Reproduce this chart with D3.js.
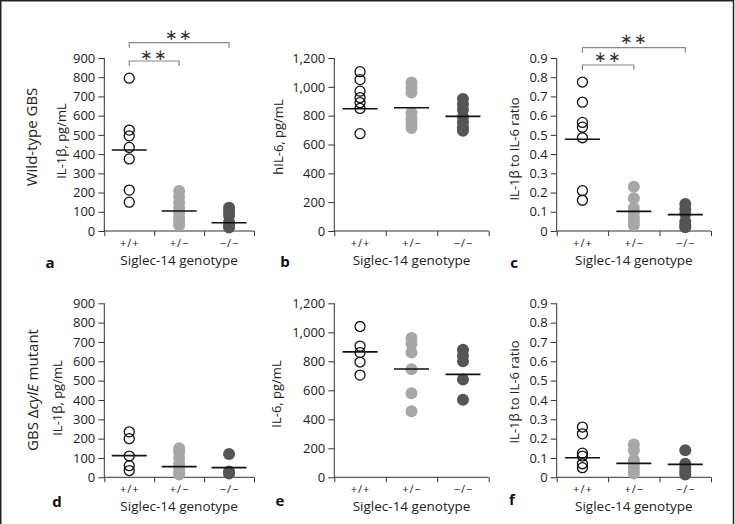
<!DOCTYPE html>
<html><head><meta charset="utf-8">
<script src="https://cdn.jsdelivr.net/npm/d3@7"></script>
<style>body{margin:0;background:#fff}svg{display:block;font-family:'Open Sans',sans-serif}</style>
</head><body><svg id="c" width="735" height="524"></svg>
<script>
// ---------- data ----------
const genotypes = ["+/+", "+/\u2212", "\u2212/\u2212"];
const xAxisTitle = "Siglec-14 genotype";

const aWT  = [795, 525, 495, 435, 375, 213, 150];
const aHet = [208, 180, 150, 120, 95, 70, 50, 30];
const aKO  = [121, 100, 80, 45, 30, 18];
const aMed = [421, 104, 43];

const bWT  = [1105, 1050, 970, 925, 890, 850, 675];
const bHet = [1030, 995, 960, 820, 780, 745, 715];
const bKO  = [915, 880, 840, 790, 755, 720, 695];
const bMed = [848, 855, 795];

const cWT  = [0.775, 0.67, 0.565, 0.54, 0.485, 0.21, 0.16];
const cHet = [0.23, 0.17, 0.12, 0.095, 0.07, 0.05, 0.03];
const cKO  = [0.14, 0.115, 0.09, 0.05, 0.03, 0.02];
const cMed = [0.477, 0.102, 0.085];

const dWT  = [235, 200, 110, 60, 35];
const dHet = [150, 130, 100, 70, 45, 25, 15];
const dKO  = [120, 30, 20];
const dMed = [112, 55, 50];

const eWT  = [1040, 905, 860, 795, 705];
const eHet = [960, 920, 860, 745, 580, 455];
const eKO  = [880, 840, 800, 675, 535];
const eMed = [865, 747, 710];

const fWT  = [0.26, 0.225, 0.125, 0.11, 0.07, 0.05];
const fHet = [0.17, 0.14, 0.09, 0.07, 0.05, 0.03, 0.02];
const fKO  = [0.14, 0.07, 0.05, 0.03, 0.015];
const fMed = [0.101, 0.072, 0.067];

const ticks900 = [0, 100, 200, 300, 400, 500, 600, 700, 800, 900];
const labels900 = ["0", "100", "200", "300", "400", "500", "600", "700", "800", "900"];
const ticks1200 = [0, 200, 400, 600, 800, 1000, 1200];
const labels1200 = ["0", "200", "400", "600", "800", "1,000", "1,200"];
const ticksRatio = [0, 0.1, 0.2, 0.3, 0.4, 0.5, 0.6, 0.7, 0.8, 0.9];
const labelsRatio = ["0", "0.1", "0.2", "0.3", "0.4", "0.5", "0.6", "0.7", "0.8", "0.9"];

const rowTitles = ["Wild-type GBS", "GBS \u0394cylE mutant"];
const sigAC = [[0, 1, "**"], [0, 2, "**"]];

// ---------- layout ----------
const rows = [{top: 58, bot: 231}, {top: 303.3, bot: 477.3}];
const cols = [{x0: 104.3, x1: 254}, {x0: 334.3, x1: 488.7}, {x0: 556.7, x1: 711}];

const panels = [
  {L: "a", r: 0, c: 0, yt: "IL-1\u03b2, pg/mL", groups: [aWT, aHet, aKO], med: aMed, ticks: ticks900, labels: labels900, max: 900, ytx: 66, ytc: 141, lx: 50, ly: 268, sig: sigAC, sigY: [61, 42.7], starY: [53.5, 34]},
  {L: "b", r: 0, c: 1, yt: "hIL-6, pg/mL", groups: [bWT, bHet, bKO], med: bMed, ticks: ticks1200, labels: labels1200, max: 1200, ytx: 283, ytc: 137, lx: 285, ly: 267},
  {L: "c", r: 0, c: 2, yt: "IL-1\u03b2 to IL-6 ratio", groups: [cWT, cHet, cKO], med: cMed, ticks: ticksRatio, labels: labelsRatio, max: 0.9, ytx: 519, ytc: 149, lx: 514, ly: 268, sig: sigAC, sigY: [65, 47.7], starY: [56, 37.5]},
  {L: "d", r: 1, c: 0, yt: "IL-1\u03b2, pg/mL", groups: [dWT, dHet, dKO], med: dMed, ticks: ticks900, labels: labels900, max: 900, ytx: 62, ytc: 398, lx: 57, ly: 507},
  {L: "e", r: 1, c: 1, yt: "IL-6, pg/mL", groups: [eWT, eHet, eKO], med: eMed, ticks: ticks1200, labels: labels1200, max: 1200, ytx: 281, ytc: 394, lx: 280, ly: 506},
  {L: "f", r: 1, c: 2, yt: "IL-1\u03b2 to IL-6 ratio", groups: [fWT, fHet, fKO], med: fMed, ticks: ticksRatio, labels: labelsRatio, max: 0.9, ytx: 519, ytc: 392, lx: 512, ly: 505}
];

const fills = ["none", "#a7a7a7", "#555555"];
const strokes = ["#111", "none", "none"];
const radii = [5, 6, 6];
const axisCol = "#333";

const svg = d3.select("#c");

// frame
svg.append("path").attr("d", "M0.75,524 V0.75 H733.5 V524")
  .attr("fill", "none").attr("stroke", "#222").attr("stroke-width", 1.5);

panels.forEach(p => {
  const R = rows[p.r], C = cols[p.c];
  const g = svg.append("g");
  const y = d3.scaleLinear().domain([0, p.max]).range([R.bot, R.top]);
  const xb = d3.scaleBand().domain(genotypes).range([C.x0, C.x1]).paddingInner(0).paddingOuter(0);
  const xc = d => xb(d) + xb.bandwidth() / 2;

  // y axis
  const ya = d3.axisLeft(y).tickValues(p.ticks).tickSize(6).tickPadding(3)
    .tickFormat((d, i) => p.labels[i]);
  const yg = g.append("g").attr("transform", `translate(${C.x0},0)`).call(ya);
  yg.select(".domain").attr("stroke", axisCol).attr("d", `M-0,${R.bot}V${R.top}`);
  yg.selectAll(".tick line").attr("stroke", axisCol);
  yg.selectAll(".tick text").attr("fill", "#222").style("font-size", "13px").style("font-family", "'Open Sans',sans-serif");

  // x axis (ticks at band boundaries)
  const xa = d3.axisBottom(d3.scaleLinear().domain([0, 3]).range([C.x0, C.x1]))
    .tickValues([0, 1, 2, 3]).tickSize(5).tickFormat("");
  const xg = g.append("g").attr("transform", `translate(0,${R.bot})`).call(xa);
  xg.select(".domain").attr("stroke", axisCol).attr("d", `M${C.x0},0H${C.x1}`);
  xg.selectAll(".tick line").attr("stroke", axisCol);

  genotypes.forEach(gt => {
    g.append("text").attr("x", xc(gt) + 0.5).attr("y", R.bot + 16)
      .attr("text-anchor", "middle").attr("fill", "#222")
      .style("font-size", "11px").style("letter-spacing", "1px").text(gt);
  });
  g.append("text").attr("x", (C.x0 + C.x1) / 2).attr("y", R.bot + 34)
    .attr("text-anchor", "middle").attr("fill", "#222").style("font-size", "13.5px").text(xAxisTitle);

  // y title (x = baseline)
  g.append("text").attr("transform", `translate(${p.ytx},${p.ytc}) rotate(-90)`)
    .attr("text-anchor", "middle")
    .attr("fill", "#222").style("font-size", "13px").text(p.yt);

  // panel letter
  g.append("text").attr("x", p.lx).attr("y", p.ly).attr("text-anchor", "middle")
    .attr("fill", "#111").style("font-size", "15px").style("font-weight", "bold").text(p.L);

  // points
  p.groups.forEach((vals, gi) => {
    g.selectAll(null).data(vals).join("circle")
      .attr("cx", xc(genotypes[gi])).attr("cy", d => y(d)).attr("r", radii[gi])
      .attr("fill", fills[gi]).attr("stroke", strokes[gi]).attr("stroke-width", 1.3);
  });
  // medians
  g.selectAll(null).data(p.med).join("line")
    .attr("x1", (d, i) => xc(genotypes[i]) - 17.5).attr("x2", (d, i) => xc(genotypes[i]) + 17.5)
    .attr("y1", d => y(d)).attr("y2", d => y(d))
    .attr("stroke", "#111").attr("stroke-width", 1.6);

  // significance brackets
  if (p.sig) {
    p.sig.forEach((s, k) => {
      const xa1 = xc(genotypes[s[0]]), xa2 = xc(genotypes[s[1]]), yy = p.sigY[k];
      g.append("path").attr("d", `M${xa1},${yy + 5}V${yy}H${xa2}V${yy + 5}`)
        .attr("fill", "none").attr("stroke", "#888").attr("stroke-width", 1.2);
      g.append("text").attr("x", (xa1 + xa2) / 2).attr("y", p.starY[k])
        .attr("text-anchor", "middle").attr("dominant-baseline", "central")
        .attr("fill", "#333").style("font-size", "15px").style("letter-spacing", "1px").text("\u2217\u2217");
    });
  }
});

// row titles
svg.append("text").attr("transform", "translate(31,137) rotate(-90)")
  .attr("text-anchor", "middle").attr("dominant-baseline", "central")
  .attr("fill", "#222").style("font-size", "15px").text(rowTitles[0]);
const rt = svg.append("text").attr("transform", "translate(32,390) rotate(-90)")
  .attr("text-anchor", "middle").attr("dominant-baseline", "central")
  .attr("fill", "#222").style("font-size", "15px");
rt.append("tspan").text("GBS \u0394");
rt.append("tspan").style("font-style", "italic").text("cylE");
rt.append("tspan").text(" mutant");
</script></body></html>
